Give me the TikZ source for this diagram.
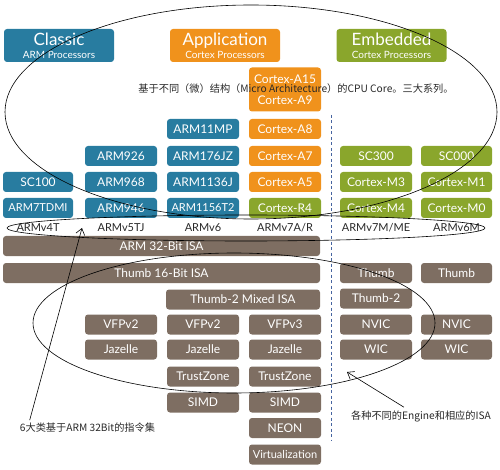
\documentclass[tikz,border=0pt]{standalone}
\usepackage{fontspec}
\setmainfont{Lato}
\newfontfamily\cjk{Noto Sans CJK SC}
\usetikzlibrary{arrows.meta}
\definecolor{armblue}{RGB}{40,124,160}
\definecolor{armorange}{RGB}{240,146,28}
\definecolor{armgreen}{RGB}{138,166,44}
\definecolor{armbrown}{RGB}{126,110,98}
\definecolor{vtext}{RGB}{40,40,40}
\definecolor{dashblue}{RGB}{70,100,160}
\begin{document}
\begin{tikzpicture}[x=1pt,y=-1pt,
  cbox/.style={rounded corners=3pt, inner sep=0pt, minimum height=20pt, minimum width=72pt,
    text=white, font=\fontsize{12}{12}\selectfont},
  bbox/.style={cbox, fill=armblue},
  obox/.style={cbox, fill=armorange},
  gbox/.style={cbox, fill=armgreen},
  rbox/.style={cbox, fill=armbrown},
  hdr/.style={rounded corners=3pt, inner sep=0pt, minimum height=33pt, minimum width=110pt,
    text=white, align=center},
  ver/.style={text=vtext, font=\fontsize{11}{11}\selectfont, inner sep=0pt},
  note/.style={text=vtext, font=\cjk\fontsize{10.2}{11}\selectfont, inner sep=0pt},
  hand/.style={black, line width=0.6pt},
  pointer/.style={hand, -{Straight Barb[length=6pt,width=9pt]}}
]
\useasboundingbox (0,0) rectangle (500,470);

% headers
\node[hdr, fill=armblue] (classic) at (59,45.5) {{\fontsize{17}{17}\selectfont Classic}\\[1pt]{\fontsize{10}{10}\selectfont ARM Processors}};
\node[hdr, fill=armorange] (application) at (225,45.5) {{\fontsize{17}{17}\selectfont Application}\\[1pt]{\fontsize{10}{10}\selectfont Cortex Processors}};
\node[hdr, fill=armgreen] (embedded) at (391.5,45.5) {{\fontsize{17}{17}\selectfont Embedded}\\[1pt]{\fontsize{10}{10}\selectfont Cortex Processors}};

% dashed separator
\coordinate (dtop) at (331,115);
\coordinate (dbot) at (331,441);
\draw[dashblue, line width=1pt, dash pattern=on 3pt off 2.5pt] (dtop) -- (dbot);

% column 1
\node[bbox, minimum width=70pt] (sc100) at (38,182) {SC100};
\node[bbox, minimum width=70pt, font=\fontsize{11}{11}\selectfont] (arm7) at (38,208) {ARM7TDMI};
% column 2
\node[bbox] (arm926) at (121,156) {ARM926};
\node[bbox] (arm968) at (121,182) {ARM968};
\node[bbox] (arm946) at (121,208) {ARM946};
% column 3
\node[bbox] (arm11mp) at (203,129) {ARM11MP};
\node[bbox] (arm176) at (203,156) {ARM176JZ};
\node[bbox] (arm1136) at (203,182) {ARM1136J};
\node[bbox, font=\fontsize{11}{11}\selectfont] (arm1156) at (203,208) {ARM1156T2};
% column 4
\node[obox, minimum height=23pt] (a15) at (285,79) {Cortex-A15};
\node[obox, minimum height=23pt] (a9) at (285,100) {Cortex-A9};
\node[obox] (a8) at (285,129) {Cortex-A8};
\node[obox] (a7) at (285,156) {Cortex-A7};
\node[obox] (a5) at (285,182) {Cortex-A5};
\node[gbox] (r4) at (285,208) {Cortex-R4};
% column 5
\node[gbox] (sc300) at (376,156) {SC300};
\node[gbox] (m3) at (376,182) {Cortex-M3};
\node[gbox] (m4) at (376,208) {Cortex-M4};
% column 6
\node[gbox, minimum width=71pt] (sc000) at (456.5,156) {SC000};
\node[gbox, minimum width=71pt] (m1) at (456.5,182) {Cortex-M1};
\node[gbox, minimum width=71pt] (m0) at (456.5,208) {Cortex-M0};

% architecture versions
\node[ver] (v4t) at (38,228) {ARMv4T};
\node[ver] (v5tj) at (121,228) {ARMv5TJ};
\node[ver] (v6) at (203,228) {ARMv6};
\node[ver] (v7ar) at (285,228) {ARMv7A/R};
\node[ver] (v7m) at (376,228) {ARMv7M/ME};
\node[ver] (v6m) at (456.5,228) {ARMv6M};

% ISA bars
\node[rbox, minimum width=317pt] (arm32) at (161.5,246) {ARM 32-Bit ISA};
\node[rbox, minimum width=317pt] (thumb16) at (161.5,273) {Thumb 16-Bit ISA};
\node[rbox] (thumbA) at (376,273) {Thumb};
\node[rbox, minimum width=71pt] (thumbB) at (456.5,273) {Thumb};
\node[rbox, minimum width=154pt] (thumb2mix) at (243,299.5) {Thumb-2 Mixed ISA};
\node[rbox] (thumb2) at (376,298.5) {Thumb-2};

\node[rbox] (vfp2a) at (121,324.5) {VFPv2};
\node[rbox] (vfp2b) at (203,324.5) {VFPv2};
\node[rbox] (vfp3) at (285,324.5) {VFPv3};
\node[rbox] (nvicA) at (376,324.5) {NVIC};
\node[rbox, minimum width=71pt] (nvicB) at (456.5,324.5) {NVIC};

\node[rbox] (jazA) at (121,349.5) {Jazelle};
\node[rbox] (jazB) at (203,349.5) {Jazelle};
\node[rbox] (jazC) at (285,349.5) {Jazelle};
\node[rbox] (wicA) at (376,349.5) {WIC};
\node[rbox, minimum width=71pt] (wicB) at (456.5,349.5) {WIC};

\node[rbox] (tzA) at (203,376.5) {TrustZone};
\node[rbox] (tzB) at (285,376.5) {TrustZone};
\node[rbox] (simdA) at (203,402.5) {SIMD};
\node[rbox] (simdB) at (285,402.5) {SIMD};
\node[rbox] (neon) at (285,428) {NEON};
\node[rbox, font=\fontsize{11}{11}\selectfont] (virt) at (285,454.5) {Virtualization};

% annotations
\node[note] (micro) at (296,89) {基于不同（微）结构（Micro Architecture）的CPU Core。三大系列。};
\node[note] (note6) at (87.5,428) {6大类基于ARM 32Bit的指令集};
\node[note] (engine) at (421,416) {各种不同的Engine和相应的ISA};

% hand-drawn marks
\draw[hand] (251,112) ellipse [x radius=246, y radius=107];
\draw[hand] (246,228) ellipse [x radius=239, y radius=13];
\draw[hand] (234,323) ellipse [x radius=201, y radius=70];

\coordinate (tipA) at (82,228);
\coordinate (tipB) at (347,372);
\draw[pointer] ([xshift=10pt,yshift=3pt]note6.north west) -- (tipA);
\draw[pointer] ([xshift=53pt,yshift=3pt]engine.north west) -- (tipB);
\end{tikzpicture}
\end{document}
